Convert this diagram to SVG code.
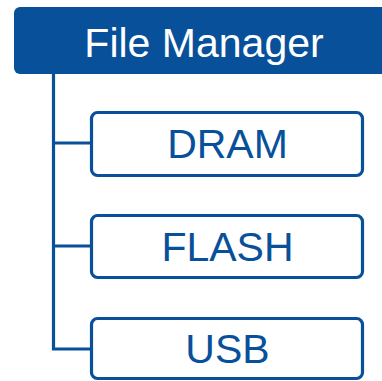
<svg xmlns="http://www.w3.org/2000/svg" width="382" height="381" viewBox="0 0 382 381">
<style>
.box{fill:#ffffff;stroke:#08509a;stroke-width:3.2}
.lbl{font-family:"Liberation Sans",Arial,sans-serif;font-size:41px;text-anchor:middle;fill:#08509a}
.conn{fill:none;stroke:#08509a;stroke-width:3.2}
</style>
<rect width="382" height="381" fill="#ffffff"/>
<g id="connectors">
<path class="conn" d="M53.5 74 V349 H92"/>
<path class="conn" d="M53.5 143 H92"/>
<path class="conn" d="M53.5 246 H92"/>
</g>
<g id="file-manager">
<rect x="14" y="7" width="380" height="67" rx="6" fill="#08509a"/>
<text x="204" y="56.7" class="lbl" fill="#ffffff" style="fill:#ffffff">File Manager</text>
</g>
<g id="dram">
<rect class="box" x="91.5" y="112.5" width="271" height="63" rx="6"/>
<text x="227.5" y="158.3" class="lbl">DRAM</text>
</g>
<g id="flash">
<rect class="box" x="91.5" y="215.5" width="271" height="62" rx="6"/>
<text x="227.5" y="261" class="lbl">FLASH</text>
</g>
<g id="usb">
<rect class="box" x="91.5" y="318.5" width="271" height="60" rx="6"/>
<text x="227.5" y="363" class="lbl">USB</text>
</g>
</svg>
